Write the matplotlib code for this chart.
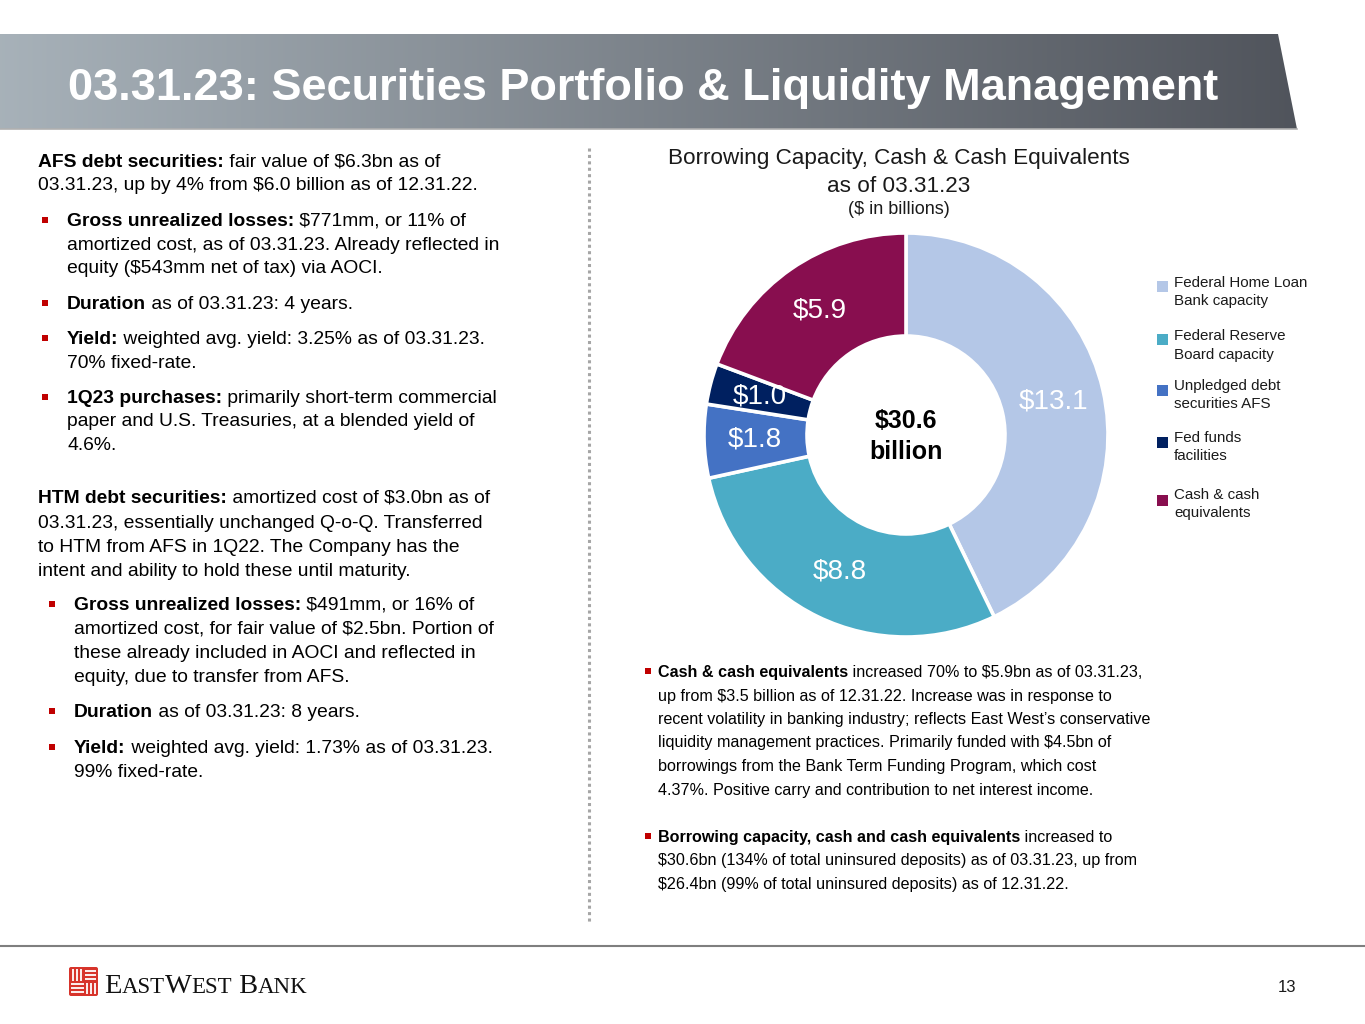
import matplotlib
matplotlib.use("Agg")
import matplotlib.pyplot as plt
import numpy as np
from matplotlib.patches import Rectangle, Polygon, FancyBboxPatch
from matplotlib import font_manager as fm

# ---------------- data ----------------
categories = ["Federal Home Loan\nBank capacity", "Federal Reserve\nBoard capacity",
              "Unpledged debt\nsecurities AFS", "Fed funds\nfacilities", "Cash & cash\nequivalents"]
values = [13.1, 8.8, 1.8, 1.0, 5.9]
colors = ["#B4C7E7", "#4BACC6", "#4472C4", "#002060", "#880E4F"]

title = "03.31.23: Securities Portfolio & Liquidity Management"
chart_title_1 = "Borrowing Capacity, Cash & Cash Equivalents"
chart_title_2 = "as of 03.31.23"
chart_sub = "($ in billions)"

B, N = True, False
afs_block = [
    ("head", [("AFS debt securities:", B), (" fair value of $6.3bn as of", N)]),
    ("hcont", [("03.31.23, up by 4% from $6.0 billion as of 12.31.22.", N)]),
    ("bul", [("Gross unrealized losses:", B), (" $771mm, or 11% of", N)]),
    ("cont", [("amortized cost, as of 03.31.23. Already reflected in", N)]),
    ("cont", [("equity ($543mm net of tax) via AOCI.", N)]),
    ("bul", [("Duration", B), (" as of 03.31.23: 4 years.", N)]),
    ("bul", [("Yield:", B), (" weighted avg. yield: 3.25% as of 03.31.23.", N)]),
    ("cont", [("70% fixed-rate.", N)]),
    ("bul", [("1Q23 purchases:", B), (" primarily short-term commercial", N)]),
    ("cont", [("paper and U.S. Treasuries, at a blended yield of", N)]),
    ("cont", [("4.6%.", N)]),
]
afs_baselines = [167, 190.5, 226, 249.5, 273, 309, 344, 367.5, 403, 426.5, 450]

htm_block = [
    ("head", [("HTM debt securities:", B), (" amortized cost of $3.0bn as of", N)]),
    ("hcont", [("03.31.23, essentially unchanged Q-o-Q. Transferred", N)]),
    ("hcont", [("to HTM from AFS in 1Q22. The Company has the", N)]),
    ("hcont", [("intent and ability to hold these until maturity.", N)]),
    ("bul", [("Gross unrealized losses:", B), (" $491mm, or 16% of", N)]),
    ("cont", [("amortized cost, for fair value of $2.5bn. Portion of", N)]),
    ("cont", [("these already included in AOCI and reflected in", N)]),
    ("cont", [("equity, due to transfer from AFS.", N)]),
    ("bul", [("Duration", B), (" as of 03.31.23: 8 years.", N)]),
    ("bul", [("Yield:", B), (" weighted avg. yield: 1.73% as of 03.31.23.", N)]),
    ("cont", [("99% fixed-rate.", N)]),
]
htm_baselines = [503, 527.5, 552, 576, 610, 634, 658, 682, 717, 753, 777]

right_block = [
    ("bul", [("Cash & cash equivalents", B), (" increased 70% to $5.9bn as of 03.31.23,", N)]),
    ("cont", [("up from $3.5 billion as of 12.31.22. Increase was in response to", N)]),
    ("cont", [("recent volatility in banking industry; reflects East West\u2019s conservative", N)]),
    ("cont", [("liquidity management practices. Primarily funded with $4.5bn of", N)]),
    ("cont", [("borrowings from the Bank Term Funding Program, which cost", N)]),
    ("cont", [("4.37%. Positive carry and contribution to net interest income.", N)]),
    ("bul", [("Borrowing capacity, cash and cash equivalents", B), (" increased to", N)]),
    ("cont", [("$30.6bn (134% of total uninsured deposits) as of 03.31.23, up from", N)]),
    ("cont", [("$26.4bn (99% of total uninsured deposits) as of 12.31.22.", N)]),
]
right_baselines = [677, 700.5, 724, 747.5, 771, 794.5, 842, 865.5, 889]

page_number = "13"

# ---------------- fonts ----------------
names = {f.name for f in fm.fontManager.ttflist}
SANS = "Liberation Sans" if "Liberation Sans" in names else "DejaVu Sans"
HAS_NARROW = "Liberation Sans Narrow" in names
NARROW = "Liberation Sans Narrow" if HAS_NARROW else SANS
SERIF = "Liberation Serif" if "Liberation Serif" in names else "DejaVu Serif"

W, H = 1365, 1024
fig = plt.figure(figsize=(W / 100, H / 100), dpi=100)
fig.patch.set_facecolor("white")
ax = fig.add_axes([0, 0, 1, 1])
ax.set_xlim(0, W)
ax.set_ylim(H, 0)
ax.axis("off")
renderer = fig.canvas.get_renderer()


def T(x, y, s, **kw):
    kw.setdefault("parse_math", False)
    return ax.text(x, y, s, **kw)


def measure(s, size, bold, family):
    t1 = T(0, 0, s + "|", fontsize=size, fontweight="bold" if bold else "normal", family=family)
    t2 = T(0, 0, "|", fontsize=size, fontweight="bold" if bold else "normal", family=family)
    w = t1.get_window_extent(renderer).width - t2.get_window_extent(renderer).width
    t1.remove()
    t2.remove()
    return w


def rich(x, y, segs, size, family, color="black"):
    for s, bold in segs:
        T(x, y, s, fontsize=size, fontweight="bold" if bold else "normal",
          family=family, va="baseline", ha="left", color=color)
        x += measure(s, size, bold, family)


def block(lines, baselines, x_head, x_bul, x_text, size, family):
    for (kind, segs), yb in zip(lines, baselines):
        if kind in ("head", "hcont"):
            rich(x_head, yb, segs, size, family)
        else:
            if kind == "bul":
                ax.add_patch(Rectangle((x_bul - 3, yb - 9.5), 6, 6, color="#C00000", lw=0))
            rich(x_text, yb, segs, size, family)


# ---------------- banner ----------------
poly = Polygon([(0, 34), (1278, 34), (1297, 129), (0, 129)], closed=True,
               facecolor="none", edgecolor="none")
ax.add_patch(poly)
c0 = np.array([0.655, 0.695, 0.725])
c1 = np.array([0.315, 0.330, 0.360])
t = np.linspace(0, 1, 400)[None, :, None]
grad = c0 + (c1 - c0) * t
grad = np.repeat(grad, 2, axis=0)
im = ax.imshow(grad, extent=(0, 1297, 129, 34), aspect="auto", interpolation="bilinear", zorder=1)
im.set_clip_path(poly)
ax.plot([0, 1297], [129, 129], color="#B0B0B0", lw=1.2, zorder=2)
ax.set_xlim(0, W)
ax.set_ylim(H, 0)
T(68, 100, title, fontsize=39.3 if HAS_NARROW else 32.5, fontweight="bold", family=NARROW,
  color="white", va="baseline", ha="left", zorder=3)

# ---------------- left text ----------------
block(afs_block, afs_baselines, 38, 45, 67, 13.9, SANS)
block(htm_block, htm_baselines, 38, 52, 74, 13.9, SANS)

# dotted separator
ax.plot([589, 589], [148, 922], color="#A6A6A6", lw=2.2, linestyle=(0, (1, 1.1)))

# ---------------- right bullets ----------------
block(right_block, right_baselines, 657, 648, 658, 13.8 if HAS_NARROW else 11.6, NARROW)

# ---------------- chart title ----------------
T(899, 164, chart_title_1, fontsize=16.2, family=SANS, ha="center", va="baseline", color="#1A1A1A")
T(899, 192, chart_title_2, fontsize=16.2, family=SANS, ha="center", va="baseline", color="#1A1A1A")
T(899, 214, chart_sub, fontsize=13, family=SANS, ha="center", va="baseline", color="#1A1A1A")

# ---------------- donut ----------------
cx, cy, R = 906, 435, 202
half = 260
axp = fig.add_axes([(cx - half) / W, (H - cy - half) / H, 2 * half / W, 2 * half / H])
axp.pie(values, colors=colors, startangle=90, counterclock=False, radius=1,
        wedgeprops=dict(width=0.51, edgecolor="white", linewidth=2.6))
lim = half / R
axp.set_xlim(-lim, lim)
axp.set_ylim(-lim, lim)
axp.set_aspect("equal")
axp.axis("off")
total = sum(values)
cum = 0.0
for v in values:
    mid = np.deg2rad(90 - 360 * (cum + v / 2) / total)
    r = 0.75
    axp.text(r * np.cos(mid), r * np.sin(mid), f"${v:.1f}", ha="center", va="center",
             fontsize=20, color="white", family=SANS, parse_math=False)
    cum += v
T(cx, 428, f"${total:.1f}", fontsize=18, fontweight="bold", family=SANS,
  ha="center", va="baseline")
T(cx, 459, "billion", fontsize=18, fontweight="bold", family=SANS, ha="center", va="baseline")

# ---------------- legend ----------------
leg_sq_y = [281, 334, 385, 437, 495]
leg_base = [287, 340, 390, 442, 499]
for c, lab, sy, by in zip(colors, categories, leg_sq_y, leg_base):
    ax.add_patch(Rectangle((1157, sy), 11, 11, color=c, lw=0))
    l1, l2 = lab.split("\n")
    T(1174, by, l1, fontsize=10.9, family=SANS, va="baseline", ha="left", color="#1A1A1A")
    T(1174, by + 18.5, l2, fontsize=10.9, family=SANS, va="baseline", ha="left", color="#1A1A1A")

# ---------------- footer ----------------
ax.plot([0, W], [946, 946], color="#7F7F7F", lw=1.5)
T(1287, 992, page_number, fontsize=12, family=SANS, ha="center", va="baseline", color="#1A1A1A")

# logo icon
red = "#D7342B"
ax.add_patch(FancyBboxPatch((69, 967), 29, 29, boxstyle="round,pad=0,rounding_size=2",
                            facecolor=red, edgecolor="none"))
wl = dict(color="white", lw=1.3, solid_capstyle="butt")
for xx in (73, 77, 81):
    ax.plot([xx, xx], [969, 981], **wl)
for yy in (971, 975, 979):
    ax.plot([85, 96], [yy, yy], **wl)
for yy in (984, 988, 992):
    ax.plot([71, 84], [yy, yy], **wl)
for xx in (87, 91, 95):
    ax.plot([xx, xx], [983, 994], **wl)

# logo text (small caps)
x = 104
big, small = 20.5, 16.5
for s, sz in [("E", big), ("AST", small), ("W", big), ("EST", small), (" B", big), ("ANK", small)]:
    T(x, 993, s, fontsize=sz, family=SERIF, va="baseline", ha="left", color="#111111")
    x += measure(s, sz, False, SERIF)

fig.savefig("out.png", dpi=100, facecolor="white")
